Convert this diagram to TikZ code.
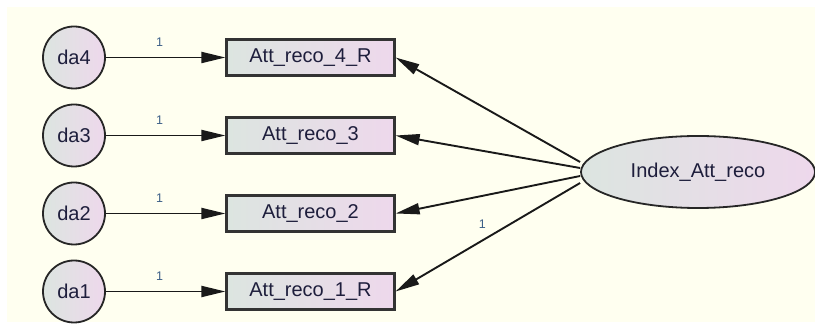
\documentclass[tikz,border=0pt]{standalone}
\usepackage{fontspec}
\setmainfont{Liberation Sans}
\usetikzlibrary{arrows.meta,shapes.geometric}
\definecolor{bgcream}{RGB}{255,255,240}
\definecolor{fillgray}{RGB}{220,229,224}
\definecolor{fillpink}{RGB}{238,216,236}
\definecolor{labelblue}{RGB}{60,95,135}
\definecolor{textnavy}{RGB}{30,30,60}

\begin{document}
\begin{tikzpicture}[
    x=1pt, y=1pt,
    font=\fontsize{20}{24}\selectfont,
    error/.style={circle, draw=black!85, line width=1.8pt, left color=fillgray, right color=fillpink, minimum size=62pt, inner sep=0pt, text=textnavy},
    observed/.style={rectangle, draw=black!80, line width=2.2pt, left color=fillgray, right color=fillpink, minimum width=168pt, minimum height=36pt, inner sep=0pt, text=textnavy},
    latent/.style={ellipse, draw=black!85, line width=1.8pt, left color=fillgray, right color=fillpink, minimum width=234pt, minimum height=72pt, inner sep=0pt, text=textnavy},
    regarrow/.style={-{Triangle[length=24pt,width=11pt]}, line width=1.9pt, black!90},
    weight/.style={font=\fontsize{12.5}{14}\selectfont, text=labelblue, inner sep=0pt}
]

% Canvas
\useasboundingbox (0,0) rectangle (815,324);
\fill[bgcream] (7,2) rectangle (815,317);

% Error terms
\node[error] (da4) at (74,266.5) {da4};
\node[error] (da3) at (74,188.5) {da3};
\node[error] (da2) at (74,110.5) {da2};
\node[error] (da1) at (74,32.5) {da1};

% Observed variables
\node[observed] (att4) at (310.5,266.5) {Att\_reco\_4\_R};
\node[observed] (att3) at (310.5,188.5) {Att\_reco\_3};
\node[observed] (att2) at (310.5,110.5) {Att\_reco\_2};
\node[observed] (att1) at (310.5,32.5) {Att\_reco\_1\_R};

% Latent factor
\node[latent] (index) at (698,152) {Index\_Att\_reco};

% Error paths
\foreach \i in {1,2,3,4} {
    \draw[regarrow] (da\i) -- node[weight, pos=0.45, above=10pt] {1} (att\i);
}

% Loadings
\draw[regarrow] ([yshift=10pt]index.west) -- (att4.east);
\draw[regarrow] ([yshift=4pt]index.west) -- (att3.east);
\draw[regarrow] ([yshift=-4pt]index.west) -- (att2.east);
\draw[regarrow] ([yshift=-11pt]index.west) -- node[weight, pos=0.53, above=11pt] {1} (att1.east);

\end{tikzpicture}
\end{document}
